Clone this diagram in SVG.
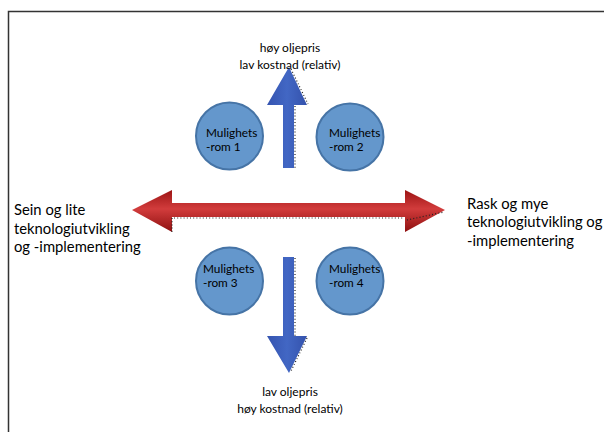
<svg xmlns="http://www.w3.org/2000/svg" width="604" height="432" viewBox="0 0 604 432">
  <defs>
    <linearGradient id="redFill" x1="0" y1="0" x2="0" y2="1">
      <stop offset="0" stop-color="#9c1414"/>
      <stop offset="0.45" stop-color="#d23c3c"/>
      <stop offset="1" stop-color="#8e1010"/>
    </linearGradient>
    <linearGradient id="blueFill" x1="0" y1="0" x2="1" y2="0">
      <stop offset="0" stop-color="#3554b0"/>
      <stop offset="0.5" stop-color="#4267c4"/>
      <stop offset="1" stop-color="#3452ac"/>
    </linearGradient>
    <style>
      .frame { fill: none; stroke: #333333; stroke-width: 1.5; }
      .circle { fill: #6497cc; stroke: #4674a6; stroke-width: 2; }
      .label { font-family: "Lato", "Open Sans", "Liberation Sans", sans-serif; fill: #000000; }
      .node { font-size: 11.8px; }
      .axis { font-size: 12px; }
      .side { font-size: 14.8px; }
      .dots { fill: none; stroke: #222222; stroke-width: 1.2; stroke-dasharray: 1 2.2; }
    </style>
  </defs>

  <rect width="604" height="432" fill="#ffffff"/>
  <!-- outer frame: top and left edges -->
  <path class="frame" d="M8.5,432 V11.5 H604"/>

  <!-- connectors: the axis arrows -->
  <g id="connectors">
    <!-- horizontal double arrow -->
    <path d="M132,210 L172,190 L172,203 L405,203 L405,190 L445,210 L405,232 L405,217 L172,217 L172,232 Z" fill="url(#redFill)"/>
    <path class="dots" d="M174,218 H404"/>
    <path class="dots" d="M172,218 V233"/>
    <path class="dots" d="M407,220 L444,212"/>
    <!-- upward arrow -->
    <path d="M289,67 L307,105 L294,105 L294,168 L283,168 L283,105 L267,105 Z" fill="url(#blueFill)"/>
    <path class="dots" d="M295,106 V168"/>
    <path class="dots" d="M291,69 L308,104"/>
    <!-- downward arrow -->
    <path d="M283,257 L294,257 L294,336 L307,336 L289,373 L267,336 L283,336 Z" fill="url(#blueFill)"/>
    <path class="dots" d="M295,258 V336"/>
    <path class="dots" d="M307,338 L291,371"/>
  </g>

  <!-- axis end labels -->
  <g id="top-label" class="label axis" text-anchor="middle">
    <text x="290" y="52">høy oljepris</text>
    <text x="290" y="69">lav kostnad (relativ)</text>
  </g>
  <g id="bottom-label" class="label axis" text-anchor="middle">
    <text x="290" y="396">lav oljepris</text>
    <text x="290" y="413">høy kostnad (relativ)</text>
  </g>
  <g id="left-label" class="label side">
    <text x="14" y="215">Sein og lite</text>
    <text x="14" y="233.5">teknologiutvikling</text>
    <text x="14" y="252">og -implementering</text>
  </g>
  <g id="right-label" class="label side">
    <text x="467" y="208.5">Rask og mye</text>
    <text x="467" y="227">teknologiutvikling og</text>
    <text x="467" y="245.5">-implementering</text>
  </g>

  <!-- opportunity spaces -->
  <g id="rom1">
    <circle class="circle" cx="229.5" cy="136" r="33.5"/>
    <text class="label node" x="206" y="137">Mulighets</text>
    <text class="label node" x="206" y="151">-rom 1</text>
  </g>
  <g id="rom2">
    <circle class="circle" cx="350" cy="137" r="33.5"/>
    <text class="label node" x="329" y="137">Mulighets</text>
    <text class="label node" x="329" y="151">-rom 2</text>
  </g>
  <g id="rom3">
    <circle class="circle" cx="229.5" cy="281" r="33.5"/>
    <text class="label node" x="203" y="273">Mulighets</text>
    <text class="label node" x="203" y="287">-rom 3</text>
  </g>
  <g id="rom4">
    <circle class="circle" cx="350" cy="281" r="33.5"/>
    <text class="label node" x="329" y="273">Mulighets</text>
    <text class="label node" x="329" y="287">-rom 4</text>
  </g>
</svg>
